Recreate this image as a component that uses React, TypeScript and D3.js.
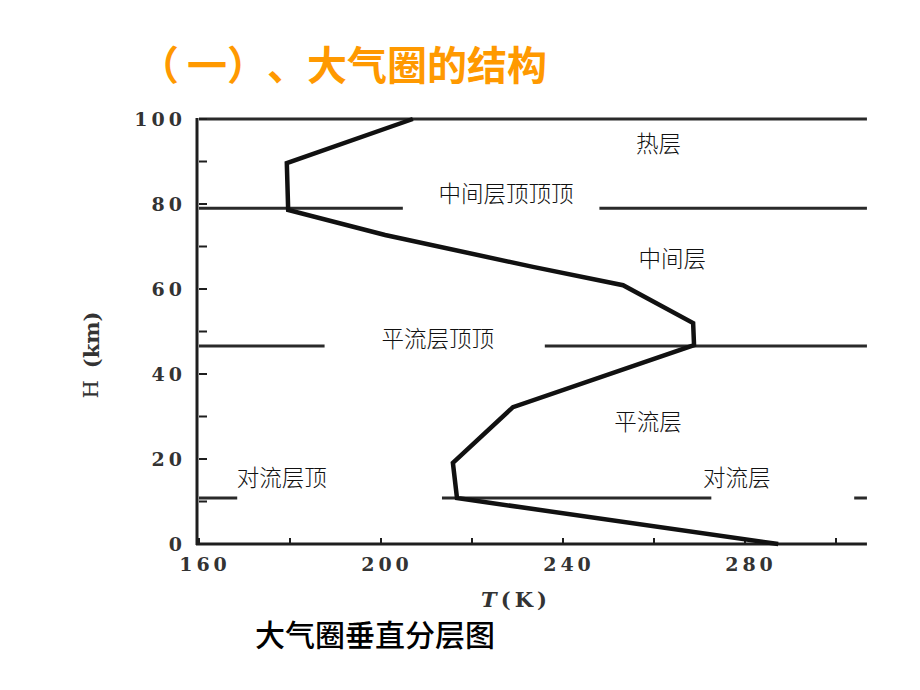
import React from "react";
import * as d3 from "d3";

// Temperature profile (T in K, H in km)
const tempK = [287.3, 216.7, 215.8, 229, 268.8, 268.6, 253.2, 233.4, 200.9, 179.6, 179.3, 207];
const heightKm = [0, 10.8, 19.1, 32.2, 46.8, 52, 60.9, 65.2, 72.7, 78.6, 89.6, 100];

// Layer boundaries (km)
const boundaryKm = [79, 46.6, 10.8];

const yTicks = [0, 10, 20, 30, 40, 50, 60, 70, 80, 90, 100];
const yLabels = [0, 20, 40, 60, 80, 100];
const xTicks = [160, 180, 200, 220, 240, 260, 280, 300];
const xLabels = [160, 200, 240, 280];
const xMin = 160;
const xMax = 306.8;

const titleChars = ["（", "一", "）", "、", "大", "气", "圈", "的", "结", "构"];
const titleShift = [-8, 0, 0, 0, 0, 0, 0, 0, 0, 0];

const layerLabels = [
  { text: "热层", t: 261, h: 94.6 },
  { text: "中间层顶顶顶", t: 227.5, h: 82.9 },
  { text: "中间层", t: 264, h: 67.5 },
  { text: "平流层顶顶", t: 212.5, h: 48.7 },
  { text: "平流层", t: 258.7, h: 29.2 },
  { text: "对流层顶", t: 178.2, h: 15.9 },
  { text: "对流层", t: 278.2, h: 15.9 },
];

// white label boxes covering the boundary lines: [t0, t1, h0, h1]
const maskT0 = [204.8, 187.6, 168.4, 272.6];
const maskT1 = [248, 236, 213.4, 304];
const maskH0 = [77.4, 45.6, 9.2, 9.2];
const maskH1 = [86.6, 52.3, 20.2, 20.2];

export default function App() {
  const x = d3.scaleLinear().domain([160, 300]).range([199, 836]);
  const y = d3.scaleLinear().domain([0, 100]).range([544, 119]);
  const tx = d3.scaleLinear().domain([0, 9]).range([167, 527]);

  const pts: [number, number][] = tempK.map((t, i) => [t, heightKm[i]]);
  const line = d3
    .line<[number, number]>()
    .x((d) => x(d[0]))
    .y((d) => y(d[1]));

  const axisColor = "#1e1e1e";
  const tickFont = "'DejaVu Serif', serif";

  return (
    <svg
      width={920}
      height={690}
      style={{ position: "absolute", left: 0, top: 0, background: "#fff" }}
    >
      <rect x={0} y={0} width={920} height={690} fill="#fff" />
      <text
        y={63}
        textAnchor="middle"
        dominantBaseline="central"
        fontFamily="'Noto Sans CJK SC', sans-serif"
        fontWeight={700}
        fontSize={40}
        fill="#FF9900"
      >
        {titleChars.map((c, i) => (
          <tspan key={i} x={tx(i) + titleShift[i]}>
            {c}
          </tspan>
        ))}
      </text>

      {/* top frame line at 100 km */}
      <line x1={x(xMin)} x2={x(xMax)} y1={y(100)} y2={y(100)} stroke="#2a2a2a" strokeWidth={3} />

      {/* boundary lines */}
      {boundaryKm.map((h, i) => (
        <line key={i} x1={x(xMin)} x2={x(xMax)} y1={y(h)} y2={y(h)} stroke="#2a2a2a" strokeWidth={3} />
      ))}

      {/* label masks */}
      {maskT0.map((t0, i) => (
        <rect
          key={i}
          x={x(t0)}
          width={x(maskT1[i]) - x(t0)}
          y={y(maskH1[i])}
          height={y(maskH0[i]) - y(maskH1[i])}
          fill="#fff"
        />
      ))}

      {/* axes */}
      <line x1={x(xMin) - 2} x2={x(xMin) - 2} y1={y(100) - 1} y2={y(0) + 1} stroke={axisColor} strokeWidth={3} />
      <line x1={x(xMin) - 3} x2={x(xMax)} y1={y(0)} y2={y(0)} stroke={axisColor} strokeWidth={3} />

      {yTicks.map((v) => (
        <line key={v} x1={x(xMin)} x2={x(xMin) + 8} y1={y(v)} y2={y(v)} stroke={axisColor} strokeWidth={2} />
      ))}
      {xTicks.map((v) => (
        <line key={v} x1={x(v)} x2={x(v)} y1={y(0)} y2={y(0) - 6} stroke={axisColor} strokeWidth={2} />
      ))}

      {yLabels.map((v) => (
        <text
          key={v}
          x={186}
          y={y(v)}
          textAnchor="end"
          dominantBaseline="central"
          fontFamily={tickFont}
          fontWeight={700}
          fontSize={19}
          letterSpacing={4}
          fill="#333"
        >
          {v}
        </text>
      ))}
      {xLabels.map((v) => (
        <text
          key={v}
          x={x(v) + 6}
          y={564}
          textAnchor="middle"
          dominantBaseline="central"
          fontFamily={tickFont}
          fontWeight={700}
          fontSize={19}
          letterSpacing={4}
          fill="#333"
        >
          {v}
        </text>
      ))}

      {/* axis titles */}
      <text
        transform="translate(91,355) rotate(-90)"
        textAnchor="middle"
        dominantBaseline="central"
        fontFamily={tickFont}
        fontSize={21}
        fill="#333"
      >
        H<tspan dx={12} fontWeight={700}>(km)</tspan>
      </text>
      <text
        x={516}
        y={599}
        textAnchor="middle"
        dominantBaseline="central"
        fontFamily={tickFont}
        fontWeight={700}
        fontSize={21}
        letterSpacing={4}
        fill="#333"
      >
        <tspan fontStyle="italic">T</tspan>(K)
      </text>

      {/* temperature curve */}
      <path d={line(pts) || ""} fill="none" stroke="#111" strokeWidth={4.5} strokeLinejoin="miter" />

      {/* layer labels */}
      {layerLabels.map((l, i) => (
        <text
          key={i}
          x={x(l.t)}
          y={y(l.h)}
          textAnchor="middle"
          dominantBaseline="central"
          fontFamily="'Noto Sans CJK SC', sans-serif"
          fontSize={22.5}
          fontWeight={300}
          fill="#111"
        >
          {l.text}
        </text>
      ))}

      <text
        x={255}
        y={633}
        dominantBaseline="central"
        fontFamily="'Noto Sans CJK SC', sans-serif"
        fontSize={30}
        fontWeight={500}
        fill="#000"
      >
        大气圈垂直分层图
      </text>
    </svg>
  );
}
